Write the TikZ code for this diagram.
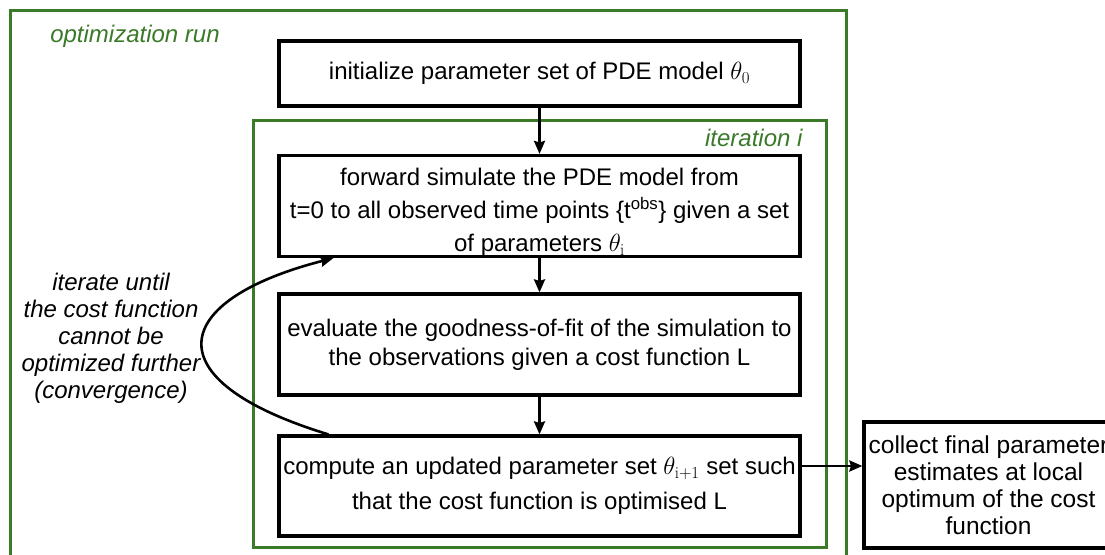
\documentclass[tikz,border=0pt]{standalone}
\usepackage{fontspec}
\usepackage{tikz}
\usetikzlibrary{arrows.meta}
\newfontfamily\helv{Liberation Sans}
\definecolor{rungreen}{HTML}{3A7A28}
\tikzstyle{stepbox}=[rectangle,draw=black,line width=3.2pt,minimum width=521pt,align=center,inner sep=0pt,font=\helv\fontsize{24}{33}\selectfont]
\tikzstyle{frame}=[draw=rungreen,line width=3pt]
\tikzstyle{greentxt}=[text=rungreen,font=\helv\itshape\fontsize{24}{27}\selectfont]
\tikzstyle{notetxt}=[align=center,font=\helv\itshape\fontsize{24}{27}\selectfont]
\tikzstyle{dgraph}=[->,>={Stealth[length=13pt,width=11pt,inset=1.5pt]},line width=2.6pt]

\begin{document}
\begin{tikzpicture}[x=1pt,y=-1pt]
\useasboundingbox (0,0) rectangle (1105,554);
\draw[frame] (10,10) rectangle (846,575);
\draw[frame] (253,120) rectangle (826,547);
\node[greentxt] (runlbl) at (135,36) {optimization run};
\node[greentxt,anchor=east] (iterlbl) at (806,138) {iteration i};
\node[stepbox,minimum height=65pt] (init) at (539.5,73.5) {initialize parameter set of PDE model $\theta_{\mathrm{0}}$};
\node[stepbox,minimum height=100pt] (sim) at (539.5,206) {\rule{0pt}{30pt}forward simulate the PDE model from\\t=0 to all observed time points \{t\textsuperscript{obs}\} given a set\\of parameters $\theta_{\mathrm{i}}$};
\node[stepbox,minimum height=101pt,font=\helv\fontsize{24}{29}\selectfont] (fit) at (539.5,344.5) {evaluate the goodness-of-fit of the simulation to\\the observations given a cost function L};
\node[stepbox,minimum height=100pt,font=\helv\fontsize{24}{35}\selectfont] (upd) at (539.5,486) {compute an updated parameter set $\theta_{\mathrm{i+1}}$ set such\\that the cost function is optimised L};
\node[stepbox,minimum width=249pt,minimum height=126pt,font=\helv\fontsize{24.5}{27}\selectfont] (final) at (988.5,485) {collect final parameter\\estimates at local\\optimum of the cost\\function};
\node[notetxt] (loopnote) at (111,338) {iterate until\\the cost function\\cannot be\\optimized further\\(convergence)};
\draw[dgraph](init)--(sim);
\draw[dgraph](sim)--(fit);
\draw[dgraph](fit)--(upd);
\draw[dgraph]([yshift=20pt]upd.east)--([yshift=20pt]upd.east -| final.west);
\draw[dgraph]([xshift=51pt]upd.north west) .. controls (150,380) and (170,300) .. ([xshift=56pt]sim.south west);
\end{tikzpicture}
\end{document}
